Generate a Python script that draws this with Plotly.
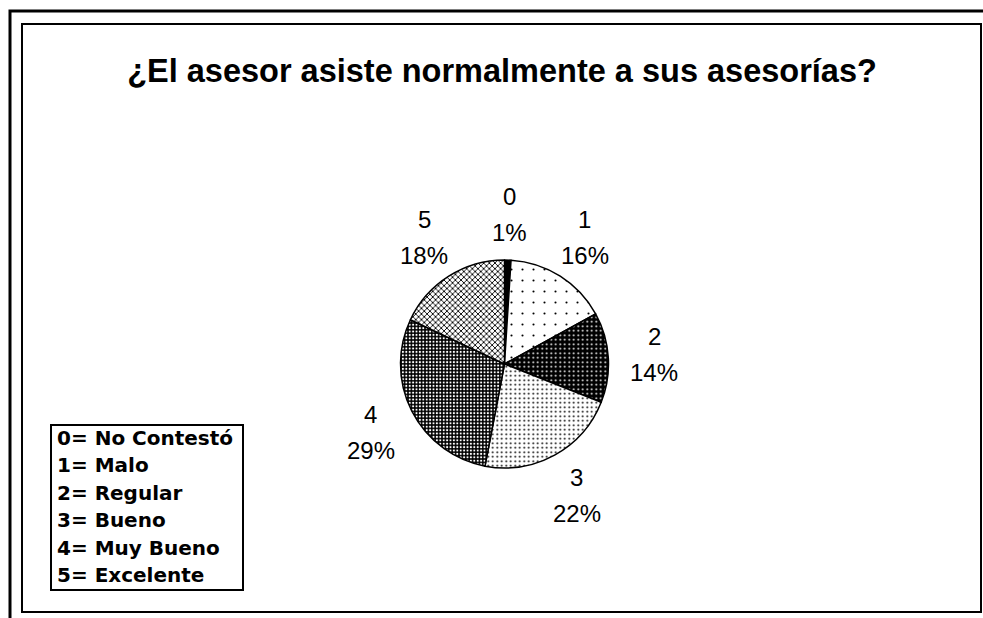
import math
import plotly.graph_objects as go

W, H = 983, 618

# datos
categorias = ["0", "1", "2", "3", "4", "5"]
porcentajes = [1, 16, 14, 22, 29, 18]
leyenda = ["0= No Contestó", "1= Malo", "2= Regular", "3= Bueno", "4= Muy Bueno", "5= Excelente"]
titulo = "¿El asesor asiste normalmente a sus asesorías?"


def px(x):
    return x / W


def py(y):
    return 1 - y / H


# geometria del pastel (pixeles)
cx, cy, r = 504.5, 364, 104
R_lab = 150

fig = go.Figure()

fig.add_trace(go.Pie(
    labels=categorias,
    values=porcentajes,
    sort=False,
    direction="clockwise",
    rotation=0,
    textinfo="none",
    hoverinfo="label+percent",
    showlegend=False,
    domain=dict(x=[px(cx - r), px(cx + r)], y=[py(cy + r), py(cy - r)]),
    marker=dict(
        colors=["black", "white", "black", "white", "black", "white"],
        line=dict(color="black", width=1.5),
        pattern=dict(
            shape=["", ".", ".", ".", ".", "x"],
            fgcolor=["black", "black", "white", "black", "white", "black"],
            bgcolor=["black", "white", "black", "white", "black", "white"],
            size=[8, 11, 4.5, 4.5, 3.4, 4],
            solidity=[0.5, 0.03, 0.15, 0.15, 0.3, 0.4],
            fillmode="replace",
        ),
    ),
))

# etiquetas fuera del pastel
total = sum(porcentajes)
acum = 0
for cat, v in zip(categorias, porcentajes):
    ang = 2 * math.pi * (acum + v / 2) / total
    acum += v
    x = cx + R_lab * math.sin(ang)
    y = cy - R_lab * math.cos(ang)
    for txt, dy in [(cat, -18), (f"{round(100 * v / total)}%", 18)]:
        fig.add_annotation(x=px(x), y=py(y + dy), xref="paper", yref="paper",
                           text=txt, showarrow=False, xanchor="center", yanchor="middle",
                           font=dict(family="Liberation Sans, Arial", size=24, color="black"))

# cuadro de leyenda
for i, t in enumerate(leyenda):
    fig.add_annotation(x=px(55), y=py(438 + i * 27.4), xref="paper", yref="paper",
                       text="<b>" + t + "</b>", showarrow=False, xanchor="left", yanchor="middle",
                       font=dict(family="DejaVu Sans", size=20, color="black"))

fig.update_layout(
    width=W, height=H,
    margin=dict(l=0, r=0, t=0, b=0),
    paper_bgcolor="white",
    title=dict(text="<b>" + titulo + "</b>", x=px(502), y=py(71), xanchor="center", yanchor="middle",
               font=dict(family="Liberation Sans, Arial", size=32.5, color="black")),
    shapes=[
        dict(type="rect", xref="paper", yref="paper", x0=px(10), y0=py(11), x1=px(1100), y1=py(700),
             line=dict(color="black", width=3)),
        dict(type="rect", xref="paper", yref="paper", x0=px(22), y0=py(24), x1=px(981), y1=py(612),
             line=dict(color="black", width=2)),
        dict(type="rect", xref="paper", yref="paper", x0=px(51), y0=py(425), x1=px(243), y1=py(590),
             line=dict(color="black", width=2)),
    ],
)

fig.write_html("out.html", config={"displayModeBar": False},
               post_script="document.body.style.margin='0';")
